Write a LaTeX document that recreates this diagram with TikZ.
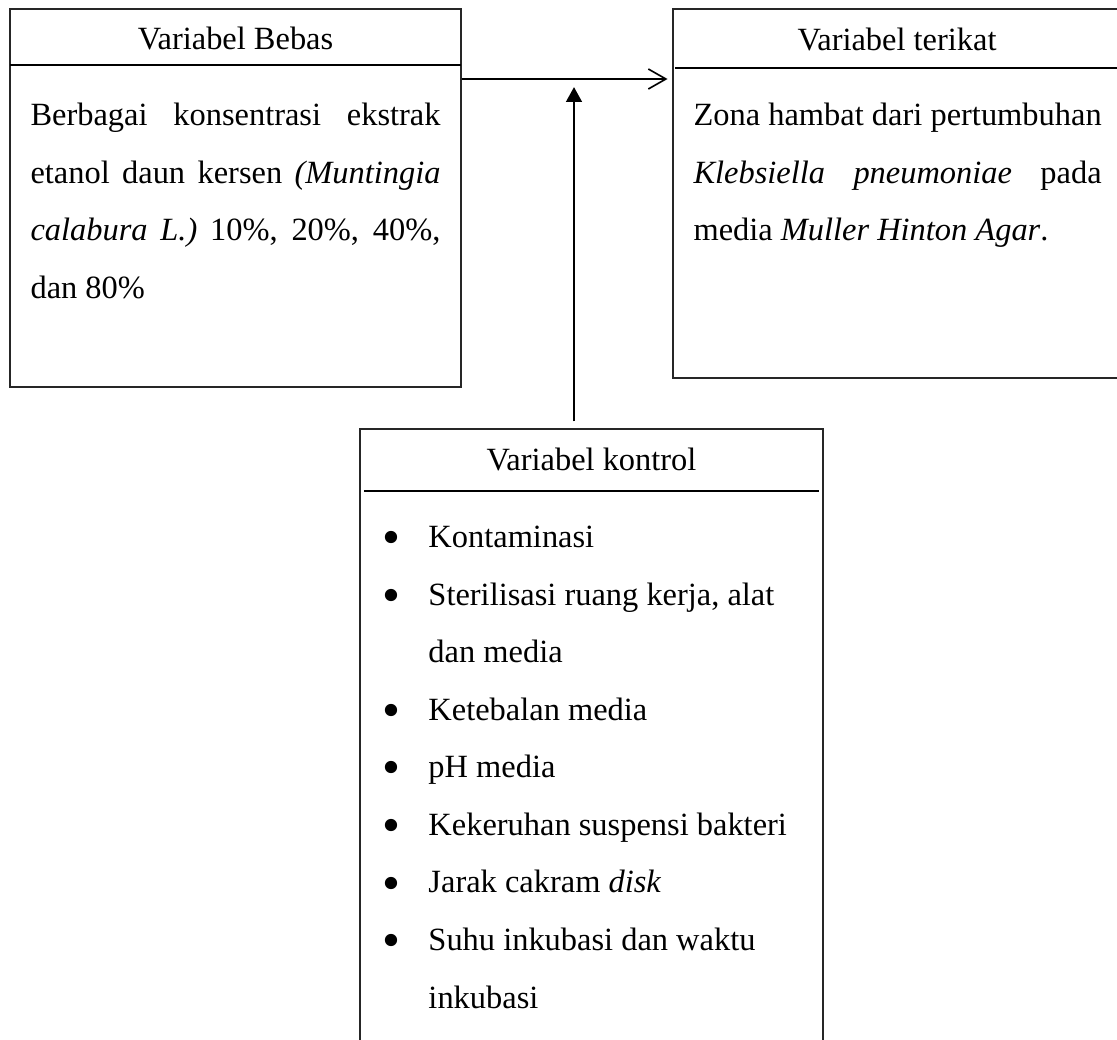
\documentclass[tikz,border=0pt]{standalone}
\usepackage{fontspec}
\setmainfont{Liberation Serif}
\usetikzlibrary{arrows.meta,fit}
\setlength{\parindent}{0pt}
\hyphenpenalty=10000
\exhyphenpenalty=10000

\tikzset{
  kotak/.style={draw=black!85, line width=0.45pt, inner sep=0pt},
  garis/.style={line width=0.55pt},
  panah/.style={line width=0.6pt},
  judul/.style={anchor=base, inner sep=0pt, font=\fontsize{12}{14}\selectfont},
  isi/.style={anchor=north west, inner sep=0pt, align=justify, font=\fontsize{12}{21.3}\selectfont},
  daftar/.style={anchor=north west, inner sep=0pt, align=left, font=\fontsize{12}{21.3}\selectfont}
}
\newcommand{\tegak}{\vrule height 9pt depth 0pt width 0pt\relax}
\newcommand{\butir}{\makebox[17pt][l]{\raisebox{-2.6pt}{\fontsize{19}{19}\selectfont •}}}

\begin{document}
\begin{tikzpicture}[x=0.37pt,y=-0.37pt]
   \clip (0,0) rectangle (1117,1039);
   \fill[white] (0,0) rectangle (1117,1039);

   \node[kotak, fit={(10,9) (461,387)}] (bebas) {};
   \node[kotak, fit={(673,9) (1121,378)}] (terikat) {};
   \node[kotak, fit={(360,429) (823,1060)}] (kontrol) {};
   \draw[garis] (10,65) -- (461,65);
   \draw[garis] (675,68) -- (1121,68);
   \draw[garis] (364,491) -- (819,491);

   \node[judul] (bebasjudul) at (235.5,49) {Variabel Bebas};
   \node[judul] (terikatjudul) at (897,50) {Variabel terikat};
   \node[judul] (kontroljudul) at (591.5,470) {Variabel kontrol};

   \node[isi, text width=151.7pt] (bebasisi) at (30,100.7) {\tegak Berbagai konsentrasi ekstrak\linebreak etanol daun kersen \textit{(Muntingia}\linebreak \textit{calabura L.)} 10\%, 20\%, 40\%,\linebreak dan 80\%};
   \node[isi, text width=151pt] (terikatisi) at (693,100.7) {\tegak Zona hambat dari pertumbuhan\linebreak \textit{Klebsiella pneumoniae} pada\linebreak media \textit{Muller Hinton Agar}.};
   \node[daftar] (kontrolisi) at (382,522.7) {\tegak\butir Kontaminasi\\
     \butir Sterilisasi ruang kerja, alat\\
     \hspace*{17pt}dan media\\
     \butir Ketebalan media\\
     \butir pH media\\
     \butir Kekeruhan suspensi bakteri\\
     \butir Jarak cakram \textit{disk}\\
     \butir Suhu inkubasi dan waktu\\
     \hspace*{17pt}inkubasi};

   \coordinate (temu) at (574,79);
   \draw[panah, -{Straight Barb[length=6.5pt,width=7.4pt]}, shorten >=1.8pt] (bebas.east |- temu) -- (terikat.west |- temu);
   \draw[panah, -{Triangle[length=5.5pt,width=5.9pt]}, shorten <=2.6pt, shorten >=3pt] (kontrol.north -| temu) -- (temu);
\end{tikzpicture}
\end{document}
